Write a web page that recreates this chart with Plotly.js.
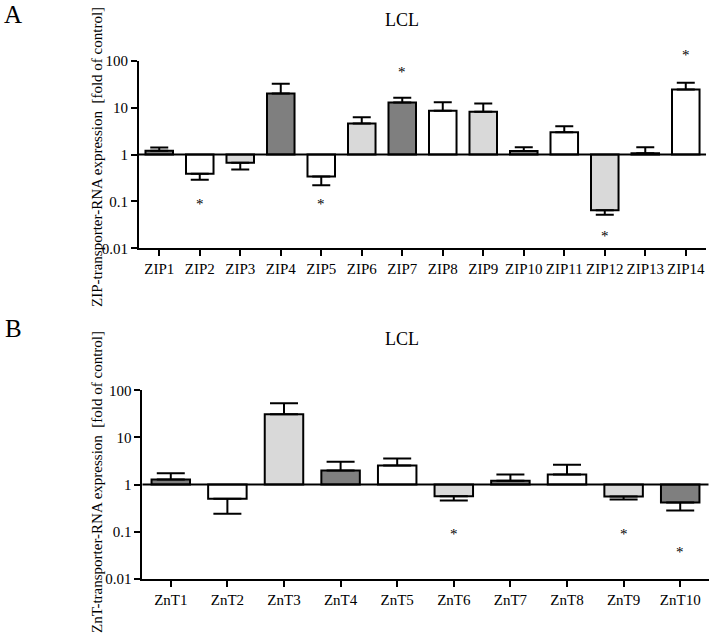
<!DOCTYPE html>
<html>
<head>
<meta charset="utf-8">
<script src="https://cdn.plot.ly/plotly-3.0.1.min.js"></script>
<style>html,body{margin:0;padding:0;background:#fff;}#chart{width:711px;height:644px;}</style>
</head>
<body>
<div id="chart"></div>
<script>
// ---- Data (A: ZIP transporters) ----
var zipCategories = ["ZIP1","ZIP2","ZIP3","ZIP4","ZIP5","ZIP6","ZIP7","ZIP8","ZIP9","ZIP10","ZIP11","ZIP12","ZIP13","ZIP14"];
var zipValues     = [1.2, 0.39, 0.67, 19.9, 0.34, 4.6, 12.8, 8.6, 8.2, 1.19, 3.0, 0.065, 1.07, 24.5];
var zipErrorEnd   = [1.41, 0.29, 0.48, 32.4, 0.22, 6.2, 16.3, 13.0, 12.3, 1.43, 4.0, 0.052, 1.43, 34];
var zipShade      = ["dark","white","light","dark","white","light","dark","white","light","dark","white","light","dark","white"];
var zipStarCats   = ["ZIP2","ZIP5","ZIP7","ZIP12","ZIP14"];
var zipStarY      = [0.1, 0.1, 66, 0.0215, 150];

// ---- Data (B: ZnT transporters) ----
var zntCategories = ["ZnT1","ZnT2","ZnT3","ZnT4","ZnT5","ZnT6","ZnT7","ZnT8","ZnT9","ZnT10"];
var zntValues     = [1.28, 0.50, 31, 1.98, 2.53, 0.565, 1.2, 1.63, 0.556, 0.415];
var zntErrorEnd   = [1.74, 0.239, 53, 3.03, 3.56, 0.457, 1.63, 2.62, 0.48, 0.28];
var zntShade      = ["dark","white","light","dark","white","light","dark","white","light","dark"];
var zntStarCats   = ["ZnT6","ZnT9","ZnT10"];
var zntStarY      = [0.105, 0.105, 0.0423];

var yTickVals = [0.01, 0.1, 1, 10, 100];
var yTickText = ["0.01", "0.1", "1", "10", "100"];
var yLogRange = [-2, 2];

var shadeColor = {dark: "#7f7f7f", light: "#d9d9d9", white: "#ffffff"};
var FONT = "Liberation Serif, Times New Roman, serif";

function barTrace(cats, vals, ends, shades, xa, ya, errWidth) {
  var plus = [], minus = [];
  for (var i = 0; i < vals.length; i++) {
    plus.push(Math.max(ends[i] - vals[i], 0));
    minus.push(Math.max(vals[i] - ends[i], 0));
  }
  return {
    type: "bar", x: cats, y: vals.map(function(v){ return v - 1; }), base: 1,
    xaxis: xa, yaxis: ya, width: 0.68,
    marker: {color: shades.map(function(s){ return shadeColor[s]; }), line: {color: "#000", width: 2}},
    error_y: {type: "data", symmetric: false, array: plus, arrayminus: minus,
              color: "#000", thickness: 2, width: errWidth},
    hoverinfo: "x+y"
  };
}
// significance stars: placed via the axis' log range (domain fraction) so that ones above the axis top are kept
function starAnnotations(cats, ys, xa, ya) {
  return cats.map(function(c, i) {
    var frac = (Math.log10(ys[i]) - yLogRange[0]) / (yLogRange[1] - yLogRange[0]);
    return {text: "*", xref: xa, yref: ya + " domain", x: c, y: frac, showarrow: false,
            xanchor: "center", yanchor: "middle", yshift: -3,
            font: {family: FONT, size: 15, color: "#000"}};
  });
}

var data = [
  barTrace(zipCategories, zipValues, zipErrorEnd, zipShade, "x", "y", 9),
  barTrace(zntCategories, zntValues, zntErrorEnd, zntShade, "x2", "y2", 14)
];

function xAxis(domain, anchor, cats) {
  return {domain: domain, anchor: anchor, type: "category", categoryorder: "array", categoryarray: cats,
          range: [-0.5, cats.length - 0.5], showline: true, linecolor: "#000", linewidth: 2,
          ticks: "outside", ticklen: 6, tickwidth: 2, tickcolor: "#000", showgrid: false, zeroline: false,
          tickfont: {family: FONT, size: 15, color: "#000"}, fixedrange: true};
}
function yAxis(domain, anchor) {
  return {domain: domain, anchor: anchor, type: "log", range: yLogRange,
          tickvals: yTickVals, ticktext: yTickText, showline: true, linecolor: "#000", linewidth: 2,
          ticks: "outside", ticklen: 6, tickwidth: 2, tickcolor: "#000", showgrid: false, zeroline: false,
          tickfont: {family: FONT, size: 15, color: "#000"}, fixedrange: true};
}

function paperText(text, x, y, size, angle) {
  return {text: text, xref: "paper", yref: "paper", x: x / 711, y: 1 - y / 644, showarrow: false,
          xanchor: "center", yanchor: "middle", textangle: angle || 0,
          font: {family: FONT, size: size, color: "#000"}};
}

var layout = {
  width: 711, height: 644, margin: {l: 0, r: 0, t: 0, b: 0},
  paper_bgcolor: "#fff", plot_bgcolor: "#fff", showlegend: false,
  font: {family: FONT, color: "#000"},
  xaxis: xAxis([0.1955, 0.993], "y", zipCategories),
  yaxis: yAxis([0.6144, 0.9057], "x"),
  xaxis2: xAxis([0.2004, 0.9965], "y2", zntCategories),
  yaxis2: yAxis([0.1014, 0.3939], "x2"),
  shapes: [
    {type: "line", xref: "x domain", yref: "y", x0: 0, x1: 1, y0: 1, y1: 1, line: {color: "#000", width: 2}},
    {type: "line", xref: "x2 domain", yref: "y2", x0: 0, x1: 1, y0: 1, y1: 1, line: {color: "#000", width: 2}}
  ],
  annotations: [
    paperText("A", 13, 15, 25),
    paperText("B", 13, 328, 25),
    paperText("LCL", 402, 20, 18),
    paperText("LCL", 402, 339, 18),
    paperText("ZIP-transporter-RNA expression  [fold of control]", 97, 157, 15, -90),
    paperText("ZnT-transporter-RNA expression  [fold of control]", 97, 482, 15, -90)
  ].concat(starAnnotations(zipStarCats, zipStarY, "x", "y"))
   .concat(starAnnotations(zntStarCats, zntStarY, "x2", "y2"))
};

Plotly.newPlot("chart", data, layout, {displayModeBar: false, staticPlot: true});
</script>
</body>
</html>
